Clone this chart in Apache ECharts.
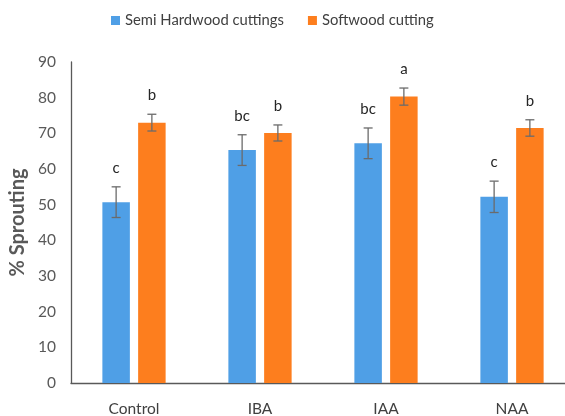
<!DOCTYPE html>
<html>
<head>
<meta charset="utf-8">
<script src="https://cdn.jsdelivr.net/npm/echarts@6/dist/echarts.min.js"></script>
<style>
  html, body { margin: 0; padding: 0; background: #ffffff; }
  #chart { width: 565px; height: 416px; }
</style>
</head>
<body>
<div id="chart"></div>
<script>
// Treatments on the x axis
const categories = ['Control', 'IBA', 'IAA', 'NAA'];

// Mean sprouting (%) and standard error per treatment
const semiHardwood = [50.7, 65.3, 67.2, 52.2];
const semiHardwoodErr = [4.3, 4.3, 4.3, 4.4];
const softwood = [73.0, 70.1, 80.3, 71.5];
const softwoodErr = [2.35, 2.25, 2.4, 2.3];

// Significance letters above each bar
const semiHardwoodLetters = ['c', 'bc', 'bc', 'c'];
const softwoodLetters = ['b', 'b', 'a', 'b'];

// Y axis ticks
const yMin = 0, yMax = 90, yStep = 10;

const BAR_W = 27.5;
const BAR_GAP = 0.3; // fraction of bar width
const FONT = 'Lato, Liberation Sans, Arial, sans-serif';
const AXIS_GRAY = '#595959';

// x offset of a bar's centre from its category centre
function barOffset(index) {
  const half = (BAR_W + BAR_W * BAR_GAP) / 2;
  return index === 0 ? -half : half;
}

// Error bar with caps plus the significance letter above it
function errorSeries(name, values, errs, letters, index) {
  return {
    name: name + ' error',
    type: 'custom',
    z: 5,
    silent: true,
    data: values.map((v, i) => [i, v, errs[i]]),
    renderItem: function (params, api) {
      const i = api.value(0);
      const v = api.value(1);
      const e = api.value(2);
      const top = api.coord([i, v + e]);
      const bot = api.coord([i, v - e]);
      const x = top[0] + barOffset(index);
      const cap = 4.5;
      const style = { stroke: '#6b6b6b', lineWidth: 1.3 };
      return {
        type: 'group',
        children: [
          { type: 'line', shape: { x1: x, y1: top[1], x2: x, y2: bot[1] }, style: style },
          { type: 'line', shape: { x1: x - cap, y1: top[1], x2: x + cap, y2: top[1] }, style: style },
          { type: 'line', shape: { x1: x - cap, y1: bot[1], x2: x + cap, y2: bot[1] }, style: style },
          {
            type: 'text',
            style: {
              text: letters[i],
              x: x,
              y: top[1] - 19,
              align: 'center',
              verticalAlign: 'middle',
              font: '15px ' + FONT,
              fill: '#262626'
            }
          }
        ]
      };
    }
  };
}

const chart = echarts.init(document.getElementById('chart'), null, { renderer: 'canvas' });

chart.setOption({
  backgroundColor: '#ffffff',
  animation: false,
  legend: {
    data: ['Semi Hardwood cuttings', 'Softwood cutting'],
    left: 106,
    top: 8,
    itemWidth: 9,
    itemHeight: 9,
    itemGap: 24,
    icon: 'rect',
    textStyle: { fontFamily: FONT, fontSize: 14.8, color: '#404040' }
  },
  // the plot runs past the right edge, so keep the grid where it is set
  grid: { left: 71, top: 62, right: -10, bottom: 33, containLabel: false, outerBoundsMode: 'none' },
  xAxis: {
    type: 'category',
    data: categories,
    axisLine: { lineStyle: { color: AXIS_GRAY, width: 1.3 } },
    axisTick: { show: false },
    axisLabel: { margin: 18, fontFamily: FONT, fontSize: 15.5, color: '#404040' }
  },
  yAxis: {
    type: 'value',
    min: yMin,
    max: yMax,
    interval: yStep,
    name: '% Sprouting',
    nameLocation: 'middle',
    nameGap: 35,
    nameTextStyle: { fontFamily: FONT, fontSize: 20, fontWeight: 'bold', color: AXIS_GRAY },
    axisLine: { show: true, lineStyle: { color: AXIS_GRAY, width: 1.3 } },
    axisTick: { show: false },
    splitLine: { show: false },
    axisLabel: { margin: 15, fontFamily: FONT, fontSize: 15.5, color: AXIS_GRAY }
  },
  series: [
    {
      name: 'Semi Hardwood cuttings',
      type: 'bar',
      data: semiHardwood,
      barWidth: BAR_W,
      barGap: (BAR_GAP * 100) + '%',
      itemStyle: { color: '#4f9fe6' }
    },
    {
      name: 'Softwood cutting',
      type: 'bar',
      data: softwood,
      barWidth: BAR_W,
      barGap: (BAR_GAP * 100) + '%',
      itemStyle: { color: '#fd7e1e' }
    },
    errorSeries('Semi Hardwood cuttings', semiHardwood, semiHardwoodErr, semiHardwoodLetters, 0),
    errorSeries('Softwood cutting', softwood, softwoodErr, softwoodLetters, 1)
  ]
});
</script>
</body>
</html>
